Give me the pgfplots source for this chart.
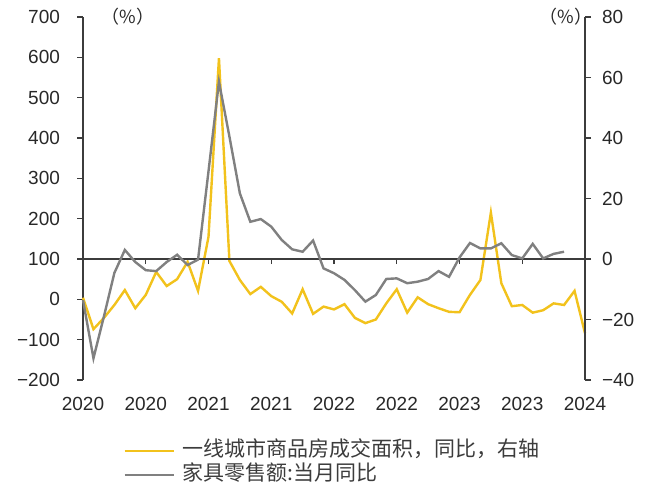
\documentclass[border=0pt]{standalone}
\usepackage{pgfplots}
\pgfplotsset{compat=1.18}
\usepackage{fontspec}
\setmainfont{Liberation Sans}
\newfontfamily\cjk{Noto Sans CJK SC}
\definecolor{gold}{RGB}{242,194,28}
\definecolor{greyline}{RGB}{128,128,128}
\definecolor{axisgrey}{RGB}{60,60,60}
\definecolor{txt}{RGB}{40,40,40}

\pgfplotsset{
  twin/.style={
    scale only axis, width=251pt, height=181.5pt,
    xmin=0, xmax=48,
    tick align=outside, major tick length=3pt,
    axis line style={axisgrey, line width=0.7pt},
    tick style={axisgrey, line width=0.7pt},
    tick label style={font=\fontsize{9.5}{10}\selectfont, text=txt},
    /pgf/number format/assume math mode=true,
  },
}

\begin{document}
\begin{tikzpicture}
\begin{axis}[twin, name=ax,
    ymin=-200, ymax=700,
    axis y line*=left, axis x line*=bottom,
    x axis line style={draw=none}, xtick style={draw=none},
    xtick={0,6,...,48},
    xticklabels={2020,2020,2021,2021,2022,2022,2023,2023,2024},
    ytick={-200,-100,...,700},
    yticklabels={−200,−100,0,100,200,300,400,500,600,700},
    yticklabel style={xshift=-5pt},
    xticklabel style={yshift=-2pt},
    clip=false,
  ]
  % 一线城市商品房成交面积 yoy
  \addplot[gold, line width=1.2pt] coordinates {
    (0,4) (1,-74) (2,-46) (3,-14) (4,23) (5,-22) (6,11) (7,68) (8,33) (9,50)
    (10,93) (11,21) (12,155) (13,598) (14,95) (15,48) (16,13) (17,31) (18,8) (19,-6)
    (20,-35) (21,25) (22,-36) (23,-18) (24,-25) (25,-12) (26,-46) (27,-59) (28,-50) (29,-10)
    (30,25) (31,-33) (32,5) (33,-12) (34,-22) (35,-31) (36,-32) (37,11) (38,48) (39,215)
    (40,40) (41,-17) (42,-14) (43,-33) (44,-27) (45,-10) (46,-14) (47,21) (48,-84)
  };
  \node[font=\cjk\fontsize{9}{10}\selectfont, text=txt] at (rel axis cs:0.09,1) {（\%）};
\end{axis}

% zero line (right axis 0 / left axis 100) with half-year ticks
\begin{axis}[twin, at={(ax.south west)}, anchor=south west, yshift=60.5pt,
    height=121pt, ymin=0, ymax=1,
    axis y line=none, axis x line*=bottom,
    xtick={6,12,...,42}, xticklabels={},
    major tick length=2.5pt,
  ]
  \addplot[draw=none] coordinates {(0,0.5)};
\end{axis}

\begin{axis}[twin,
    at={(ax.south west)}, anchor=south west,
    ymin=-40, ymax=80,
    axis y line*=right, axis x line=none,
    ytick={-40,-20,...,80},
    yticklabels={−40,−20,0,20,40,60,80},
    yticklabel style={xshift=2pt},
    clip=false,
    legend style={at={(0.0797,-0.2287)}, anchor=west, draw=none, fill=none,
      inner sep=0pt, row sep=0.5pt,
      nodes={inner sep=1pt, text height=7.5pt, text depth=2pt, text={rgb,255:red,60;green,60;blue,60}},
      font=\cjk\fontsize{10.5}{12}\selectfont},
    legend cell align=left,
    legend image code/.code={\draw[#1] (0pt,0pt) -- (24.5pt,0pt);},
    /tikz/every odd column/.append style={column sep=3pt},
  ]
  \addlegendimage{gold, line width=1.2pt}
  \addlegendentry{一线城市商品房成交面积，同比，右轴}
  % 家具零售额 当月同比
  \addplot[greyline, line width=1.2pt] coordinates {
    (0,-13.6) (1,-32.8) (2,-19) (3,-4.6) (4,3.0) (5,-1.0) (6,-3.7) (7,-4.0) (8,-1.0) (9,1.4)
    (10,-2.0) (11,-0.2) (12,29) (13,58.6) (14,40.5) (15,21.7) (16,12.3) (17,13.2) (18,10.7) (19,6.3)
    (20,3.2) (21,2.4) (22,6.1) (23,-3.1) (24,-4.7) (25,-6.9) (26,-10.3) (27,-14.1) (28,-11.9) (29,-6.6)
    (30,-6.4) (31,-8.0) (32,-7.5) (33,-6.6) (34,-4.0) (35,-5.9) (36,0.5) (37,5.3) (38,3.5) (39,3.5)
    (40,5.2) (41,1.3) (42,0.2) (43,5.0) (44,0.2) (45,1.7) (46,2.4)
  };
  \addlegendentry{家具零售额:当月同比}
  \node[font=\cjk\fontsize{9}{10}\selectfont, text=txt] at (rel axis cs:0.962,1) {（\%）};
\end{axis}
\pgfresetboundingbox
\path ([shift={(-41.5pt,-58.5pt)}]ax.south west) rectangle ([shift={(32.5pt,8.5pt)}]ax.north east);
\end{tikzpicture}
\end{document}
